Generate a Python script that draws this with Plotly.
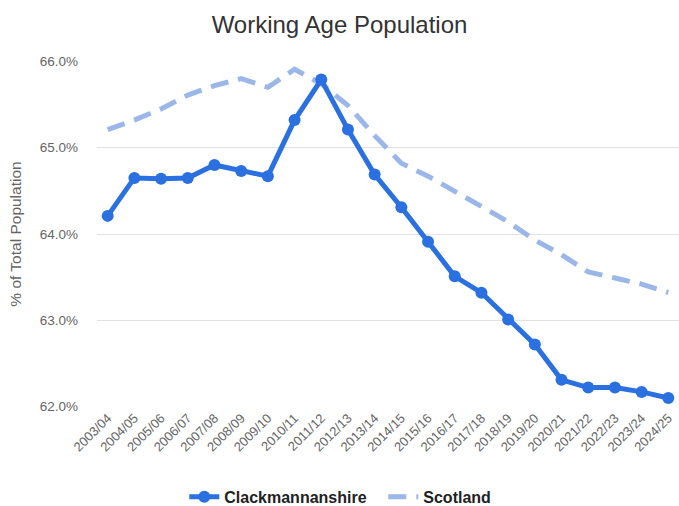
import plotly.graph_objects as go

years = ["2003/04", "2004/05", "2005/06", "2006/07", "2007/08", "2008/09", "2009/10",
         "2010/11", "2011/12", "2012/13", "2013/14", "2014/15", "2015/16", "2016/17",
         "2017/18", "2018/19", "2019/20", "2020/21", "2021/22", "2022/23", "2023/24", "2024/25"]

clackmannanshire = [64.21, 64.65, 64.64, 64.65, 64.80, 64.73, 64.67, 65.32, 65.79, 65.21,
                    64.69, 64.31, 63.91, 63.51, 63.32, 63.01, 62.72, 62.31, 62.22, 62.22,
                    62.17, 62.10]

scotland = [65.21, 65.32, 65.45, 65.61, 65.72, 65.80, 65.70, 65.91, 65.74, 65.49,
            65.14, 64.82, 64.67, 64.50, 64.32, 64.14, 63.93, 63.76, 63.56, 63.49,
            63.42, 63.32]

y_ticks = [62, 63, 64, 65, 66]
y_tick_labels = ["62.0%", "63.0%", "64.0%", "65.0%", "66.0%"]

fig = go.Figure()
fig.add_trace(go.Scatter(
    x=list(range(len(years))), y=scotland, name="Scotland", mode="lines",
    line=dict(color="#9bb7ea", width=5, dash="18px,10px"),
))
fig.add_trace(go.Scatter(
    x=list(range(len(years))), y=clackmannanshire, name="Clackmannanshire", mode="lines+markers",
    line=dict(color="#2a70e0", width=5),
    marker=dict(size=12, color="#2a70e0"),
))

fig.update_layout(
    width=679, height=506,
    paper_bgcolor="white", plot_bgcolor="white",
    font=dict(family="Liberation Sans, Arial, sans-serif", color="#555555"),
    title=dict(text="Working Age Population", x=0.5, xanchor="center", y=0.951, yanchor="middle",
               font=dict(size=24, color="#333333")),
    margin=dict(l=97, r=0, t=61, b=99, autoexpand=False),
    showlegend=True,
    legend=dict(orientation="h", x=0.15, xanchor="left", y=-0.26, yanchor="middle",
                traceorder="reversed", entrywidth=154,
                font=dict(size=16, color="#222222", family="Liberation Sans, Arial, sans-serif",
                          weight="bold"),
                itemwidth=30),
    xaxis=dict(
        tickmode="array", tickvals=list(range(len(years))), ticktext=years,
        tickangle=-45, range=[-0.4, 21.4], showgrid=False, zeroline=False,
        tickfont=dict(size=13, color="#666666"), ticks="", showline=False,
        automargin=False,
    ),
    yaxis=dict(
        tickmode="array", tickvals=y_ticks, ticktext=y_tick_labels,
        range=[61.995, 66.005], gridcolor="#e2e2e2", gridwidth=1, zeroline=False,
        tickfont=dict(size=13.5, color="#666666"), ticks="", automargin=True,
        ticklabelstandoff=18,
        title=dict(text="% of Total Population", font=dict(size=15.5, color="#666666"), standoff=14),
    ),
)

fig.write_html("out.html", config={"displayModeBar": False},
               post_script="document.body.style.margin='0';")
